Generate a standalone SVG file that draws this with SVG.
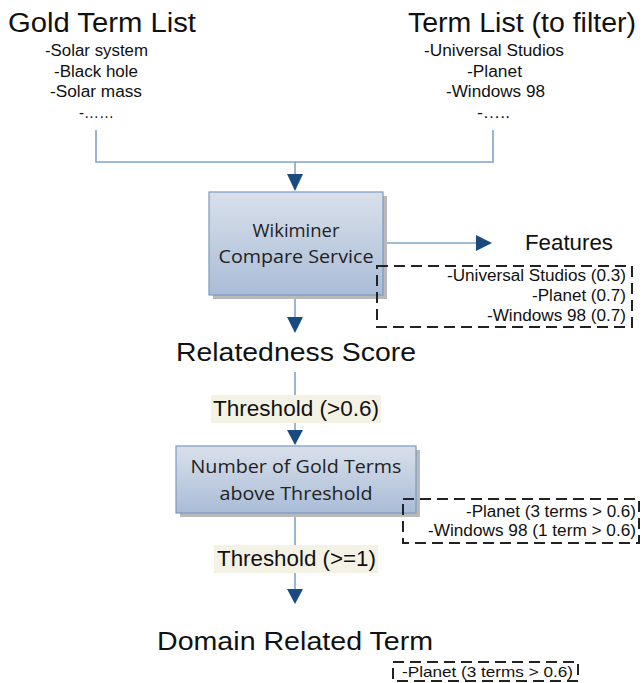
<svg xmlns="http://www.w3.org/2000/svg" width="643" height="683" viewBox="0 0 643 683">
<style>
.t{font-family:"Liberation Sans",Arial,sans-serif;fill:#111}
.big{font-size:27px}
.mid{font-size:16px}
.sm{font-size:16px}
.bx{font-family:"Open Sans","Noto Sans",sans-serif;font-size:19px;fill:#222}
.ln{fill:none;stroke:#7fa4c9;stroke-width:1.6}
.dash{fill:none;stroke:#222;stroke-width:2;stroke-dasharray:11 6}
.lbl{fill:#f4f1e5}
.ah{fill:#194b80}
.sh{fill:#b9b9b9}
.box{fill:url(#g);stroke:#7b99c0;stroke-width:1.2}
</style>
<defs>
<linearGradient id="g" x1="0" y1="0" x2="0" y2="1">
<stop offset="0" stop-color="#d9e0eb"/>
<stop offset="1" stop-color="#a9bcd7"/>
</linearGradient>
</defs>

<g id="gold">
<text class="t big" x="8" y="32" textLength="188" lengthAdjust="spacingAndGlyphs">Gold Term List</text>
<g class="t mid" lengthAdjust="spacingAndGlyphs">
<text x="45" y="56" textLength="103" lengthAdjust="spacingAndGlyphs">-Solar system</text>
<text x="54" y="77" textLength="84" lengthAdjust="spacingAndGlyphs">-Black hole</text>
<text x="50" y="97" textLength="92" lengthAdjust="spacingAndGlyphs">-Solar mass</text>
<text x="79" y="118" textLength="35" lengthAdjust="spacingAndGlyphs">-……</text>
</g>
</g>

<g id="termlist">
<text class="t big" x="408" y="32" textLength="228" lengthAdjust="spacingAndGlyphs">Term List (to filter)</text>
<g class="t mid">
<text x="424" y="56" textLength="140" lengthAdjust="spacingAndGlyphs">-Universal Studios</text>
<text x="467" y="77" textLength="55" lengthAdjust="spacingAndGlyphs">-Planet</text>
<text x="446" y="97" textLength="99" lengthAdjust="spacingAndGlyphs">-Windows 98</text>
<text x="477" y="118" textLength="33" lengthAdjust="spacingAndGlyphs">-…..</text>
</g>
</g>

<g id="connectors">
<path class="ln" d="M96,130 V162 H493 V130"/>
<path class="ln" d="M295,162 V174"/>
<path class="ah" d="M287,174 L303,174 L295,191 z"/>
<path class="ln" d="M383,243 H476"/>
<path class="ah" d="M476,235 L492,243 L476,251 z"/>
<path class="ln" d="M295,296 V318"/>
<path class="ah" d="M287,317 L303,317 L295,333 z"/>
<path class="ln" d="M295,372 V430"/>
<rect class="lbl" x="211" y="395" width="170" height="28"/>
<path class="ah" d="M287,430 L303,430 L295,445 z"/>
<path class="ln" d="M295,514 V590"/>
<rect class="lbl" x="214" y="545" width="164" height="28"/>
<path class="ah" d="M287,589 L303,589 L295,604 z"/>
</g>

<g id="wikiminer">
<rect class="sh" x="213" y="196" width="174" height="103"/>
<rect class="box" x="209" y="192" width="174" height="103"/>
<text class="bx" x="296" y="237" text-anchor="middle" textLength="87" lengthAdjust="spacingAndGlyphs">Wikiminer</text>
<text class="bx" x="296" y="263" text-anchor="middle" textLength="155" lengthAdjust="spacingAndGlyphs">Compare Service</text>
</g>

<g id="features">
<text class="t" x="525" y="250" font-size="22" textLength="88" lengthAdjust="spacingAndGlyphs">Features</text>
<rect class="dash" x="377" y="266" width="255" height="61"/>
<g class="t sm">
<text x="447" y="281" textLength="179" lengthAdjust="spacingAndGlyphs">-Universal Studios (0.3)</text>
<text x="532" y="301" textLength="94" lengthAdjust="spacingAndGlyphs">-Planet (0.7)</text>
<text x="487" y="321" textLength="139" lengthAdjust="spacingAndGlyphs">-Windows 98 (0.7)</text>
</g>
</g>

<g id="relatedness">
<text class="t" x="176" y="361" font-size="25" textLength="240" lengthAdjust="spacingAndGlyphs">Relatedness Score</text>
</g>

<g id="threshold1">
<text class="t" x="213" y="416" font-size="22" textLength="166" lengthAdjust="spacingAndGlyphs">Threshold (&gt;0.6)</text>
</g>

<g id="numgold">
<rect class="sh" x="180" y="450" width="240" height="67"/>
<rect class="box" x="176" y="446" width="240" height="67"/>
<text class="bx" x="296" y="473" text-anchor="middle" textLength="211" lengthAdjust="spacingAndGlyphs">Number of Gold Terms</text>
<text class="bx" x="296" y="500" text-anchor="middle" textLength="153" lengthAdjust="spacingAndGlyphs">above Threshold</text>
</g>

<g id="counts">
<rect class="dash" x="403" y="499" width="236" height="44"/>
<g class="t sm">
<text x="466" y="517" textLength="170" lengthAdjust="spacingAndGlyphs">-Planet (3 terms &gt; 0.6)</text>
<text x="428" y="536" textLength="208" lengthAdjust="spacingAndGlyphs">-Windows 98 (1 term &gt; 0.6)</text>
</g>
</g>

<g id="threshold2">
<text class="t" x="217" y="566" font-size="22" textLength="159" lengthAdjust="spacingAndGlyphs">Threshold (&gt;=1)</text>
</g>

<g id="domain">
<text class="t" x="157" y="650" font-size="25" textLength="276" lengthAdjust="spacingAndGlyphs">Domain Related Term</text>
<rect class="dash" x="393" y="662" width="185" height="19" stroke-width="1.6" stroke-dasharray="9 5"/>
<text class="t" x="402" y="677" font-size="15" textLength="171" lengthAdjust="spacingAndGlyphs">-Planet (3 terms &gt; 0.6)</text>
</g>
</svg>
